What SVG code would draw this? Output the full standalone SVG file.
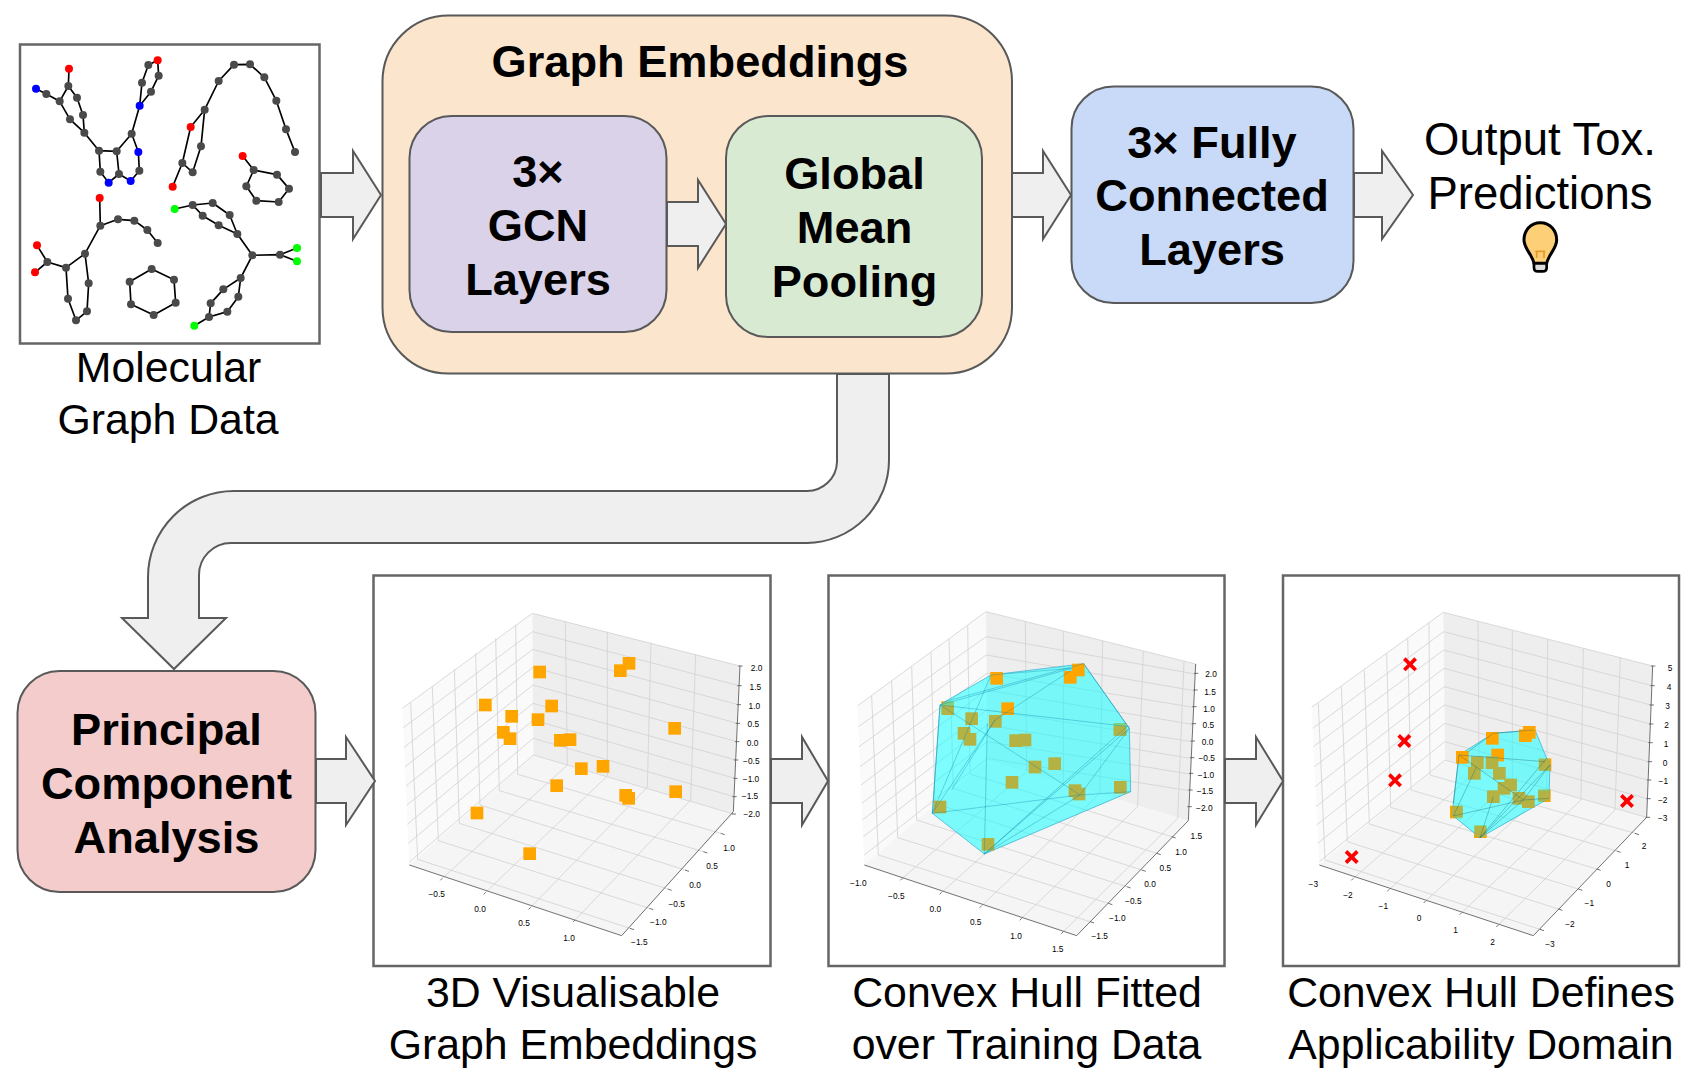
<svg xmlns="http://www.w3.org/2000/svg" width="1698" height="1080" viewBox="0 0 1698 1080">
<style>
text{font-family:"Liberation Sans",Arial,sans-serif;fill:#000;text-anchor:middle}
.t{font-size:42.800px}
.o2{font-size:45.500px}
.b{font-size:45.200px;font-weight:bold}
.box{stroke:#595959;stroke-width:2}
.frame{fill:#fff;stroke:#666;stroke-width:2.5}
.arrow{fill:#efefef;stroke:#595959;stroke-width:2}
.ed{fill:none;stroke:#000;stroke-width:5;stroke-linejoin:round}
.g{fill:#4a4a4a}.r{fill:#f00}.n{fill:#00f}.l{fill:#0f0}
.pl{fill:#fafafa}.pr{fill:#eee}.pf{fill:#f5f5f5}
.grid{fill:none;stroke:#d2d2d2;stroke-width:2.5}
.ax{fill:none;stroke:#555;stroke-width:2.5}
.tk{font-family:"DejaVu Sans",sans-serif;font-size:25px;fill:#333}
.hull{fill:#00ffff;fill-opacity:.5;stroke:#2aa8cc;stroke-width:2}
.hl{fill:none;stroke:#0b87b0;stroke-opacity:.55;stroke-width:2}
.o{fill:#ffa500}.y{fill:#b4b242}
.x{fill:none;stroke:#f00;stroke-width:11}
</style>
<defs>
<rect id="sq" x="-19" y="-19" width="38" height="38"/>
<path id="xm" d="M-17-17L17 17M-17 17L17-17"/>
</defs>

<g id="molecular-graph-data">
<rect class="frame" x="20" y="44.500" width="299.500" height="299"/>
<g transform="translate(0,30) scale(.33333)">
<path class="ed" d="M108 176L139 192L179 214L205 168L207 116M205 168L231 203L249 255L253 308L210 268L179 214M253 308L297 362L350 364L395 311L419 227M395 311L415 366L418 422L392 453L357 432L350 364M297 362L301 425L326 458L357 432M419 227L426 158L445 105L473 91L476 137L453 185L419 227"/>
<path class="ed" d="M518 470L547 399L572 291L614 239L603 349L578 427L547 399M614 239L656 153L702 104L750 103L793 142L829 212L858 298L885 366"/>
<path class="ed" d="M728 378L761 420L831 434L867 476L836 516L769 512L739 469L761 420"/>
<path class="ed" d="M299 504L301 587L354 568L403 572L442 600L473 639M301 587L255 671L198 713L142 696L111 646M142 696L105 727M198 713L204 806L228 871L261 844L266 760L255 671"/>
<path class="ed" d="M455 717L522 749L527 818L461 855L393 823L389 755Z"/>
<path class="ed" d="M524 537L578 525L638 519L689 555L712 612L656 586L608 557L578 525M712 612L757 676L840 674L891 654M840 674L891 694M757 676L722 744L670 778L632 820L627 861L583 887M627 861L682 845L715 800L722 744"/>
<g class="g">
<circle cx="139" cy="192" r="12"/><circle cx="179" cy="214" r="12"/><circle cx="205" cy="168" r="12"/><circle cx="231" cy="203" r="12"/><circle cx="249" cy="255" r="12"/><circle cx="253" cy="308" r="12"/><circle cx="210" cy="268" r="12"/><circle cx="297" cy="362" r="12"/><circle cx="350" cy="364" r="12"/><circle cx="395" cy="311" r="12"/><circle cx="418" cy="422" r="12"/><circle cx="357" cy="432" r="12"/><circle cx="301" cy="425" r="12"/><circle cx="426" cy="158" r="12"/><circle cx="445" cy="105" r="12"/><circle cx="476" cy="137" r="12"/><circle cx="453" cy="185" r="12"/>
<circle cx="547" cy="399" r="12"/><circle cx="614" cy="239" r="12"/><circle cx="603" cy="349" r="12"/><circle cx="578" cy="427" r="12"/><circle cx="656" cy="153" r="12"/><circle cx="702" cy="104" r="12"/><circle cx="750" cy="103" r="12"/><circle cx="793" cy="142" r="12"/><circle cx="829" cy="212" r="12"/><circle cx="858" cy="298" r="12"/><circle cx="885" cy="366" r="12"/>
<circle cx="761" cy="420" r="12"/><circle cx="831" cy="434" r="12"/><circle cx="867" cy="476" r="12"/><circle cx="836" cy="516" r="12"/><circle cx="769" cy="512" r="12"/><circle cx="739" cy="469" r="12"/>
<circle cx="301" cy="587" r="12"/><circle cx="354" cy="568" r="12"/><circle cx="403" cy="572" r="12"/><circle cx="442" cy="600" r="12"/><circle cx="473" cy="639" r="12"/><circle cx="255" cy="671" r="12"/><circle cx="198" cy="713" r="12"/><circle cx="142" cy="696" r="12"/><circle cx="204" cy="806" r="12"/><circle cx="228" cy="871" r="12"/><circle cx="261" cy="844" r="12"/><circle cx="266" cy="760" r="12"/>
<circle cx="455" cy="717" r="12"/><circle cx="522" cy="749" r="12"/><circle cx="527" cy="818" r="12"/><circle cx="461" cy="855" r="12"/><circle cx="393" cy="823" r="12"/><circle cx="389" cy="755" r="12"/>
<circle cx="578" cy="525" r="12"/><circle cx="638" cy="519" r="12"/><circle cx="689" cy="555" r="12"/><circle cx="712" cy="612" r="12"/><circle cx="656" cy="586" r="12"/><circle cx="608" cy="557" r="12"/><circle cx="757" cy="676" r="12"/><circle cx="840" cy="674" r="12"/><circle cx="722" cy="744" r="12"/><circle cx="670" cy="778" r="12"/><circle cx="632" cy="820" r="12"/><circle cx="627" cy="861" r="12"/><circle cx="682" cy="845" r="12"/><circle cx="715" cy="800" r="12"/>
</g>
<g class="r"><circle cx="207" cy="116" r="12"/><circle cx="473" cy="91" r="12"/><circle cx="572" cy="291" r="12"/><circle cx="518" cy="470" r="12"/><circle cx="728" cy="378" r="12"/><circle cx="299" cy="504" r="12"/><circle cx="111" cy="646" r="12"/><circle cx="105" cy="727" r="12"/></g>
<g class="n"><circle cx="108" cy="176" r="12"/><circle cx="419" cy="227" r="12"/><circle cx="415" cy="366" r="12"/><circle cx="392" cy="453" r="12"/><circle cx="326" cy="458" r="12"/></g>
<g class="l"><circle cx="524" cy="537" r="12"/><circle cx="891" cy="654" r="12"/><circle cx="891" cy="694" r="12"/><circle cx="583" cy="887" r="12"/></g>
</g>
<text class="t" x="168.500" y="382">Molecular</text>
<text class="t" x="168" y="434">Graph Data</text>
</g>

<g id="graph-embeddings">
<rect class="box" x="382.500" y="15.500" width="629.500" height="358" rx="66" fill="#fce5cd"/>
<text class="b" x="700" y="77">Graph Embeddings</text>
</g>
<g id="gcn-layers">
<rect class="box" x="409.500" y="116" width="257" height="216" rx="42" fill="#d9d2e9"/>
<text class="b" x="538" y="187">3×</text>
<text class="b" x="538" y="241">GCN</text>
<text class="b" x="538" y="295">Layers</text>
</g>
<g id="global-mean-pooling">
<rect class="box" x="726" y="116" width="256" height="221" rx="42" fill="#d9ead3"/>
<text class="b" x="854.500" y="189">Global</text>
<text class="b" x="854.500" y="243">Mean</text>
<text class="b" x="854.500" y="297">Pooling</text>
</g>
<g id="fully-connected-layers">
<rect class="box" x="1071.500" y="86.500" width="282" height="216.500" rx="42" fill="#c9daf8"/>
<text class="b" x="1212" y="158">3× Fully</text>
<text class="b" x="1212" y="211">Connected</text>
<text class="b" x="1212" y="265">Layers</text>
</g>
<g id="output-predictions">
<text class="o2" x="1540" y="155">Output Tox.</text>
<text class="o2" x="1540" y="209">Predictions</text>
<g transform="translate(1400,100) scale(.33333)">
<path d="M421 368C390 368 372 393 372 420C372 446 396 462 402 490H440C446 462 470 446 470 420C470 393 452 368 421 368Z" fill="#fdd077" stroke="#000" stroke-width="9"/>
<path d="M410 474V452M432 474V452M406 454H436" fill="none" stroke="#e39a2d" stroke-width="5"/>
<path d="M402 490H440V503Q440 514 428 514H414Q402 514 402 503Z" fill="#ddd" stroke="#000" stroke-width="8"/>
</g>
</g>
<g id="principal-component-analysis">
<rect class="box" x="17.500" y="671" width="298" height="221" rx="42" fill="#f4cccc"/>
<text class="b" x="166.500" y="745">Principal</text>
<text class="b" x="166.500" y="799">Component</text>
<text class="b" x="166.500" y="853">Analysis</text>
</g>

<g id="embeddings-plot">
<rect class="frame" x="373.500" y="575.500" width="397" height="390.500"/>
<g transform="translate(370,570) scale(.33333)">
<polygon class="pl" points="97,415 487,130 490,555 118,885"/>
<polygon class="pr" points="487,130 1110,288 1090,732 490,555"/>
<polygon class="pf" points="118,885 490,555 1090,732 755,1097"/>
<path class="grid" d="M97 415L487 130L1110 288M100 473L488 185L1107 347M102 532L488 238L1105 404M105 590L489 292L1102 460M108 648L489 345L1100 515M110 706L489 400L1097 570M112 763L490 450L1095 625M115 820L490 505L1092 680M118 876L490 555L1090 732
M122 397L143 868L780 1075M187 350L205 812L838 1015M253 297L268 760L893 957M317 250L330 705L945 900M377 205L388 662L1000 845M437 165L443 613L1052 790
M586 153L592 585L217 925M712 185L712 618L347 967M843 218L832 652L482 1012M977 252L962 690L615 1050"/>
<path class="ax" d="M118 885L755 1097L1090 725L1110 288M217 925L211 931M347 967L341 973M482 1012L476 1018M615 1050L609 1056M780 1075L792 1079M838 1015L850 1019M893 957L905 961M945 900L957 904M1000 845L1012 849M1052 790L1064 794M1105 288H1118M1102 347H1115M1100 404H1113M1097 460H1110M1095 515H1108M1092 570H1105M1090 625H1103M1087 680H1100M1085 732H1098"/>
<g class="o">
<use href="#sq" x="509" y="306"/><use href="#sq" x="777" y="280"/><use href="#sq" x="751" y="302"/><use href="#sq" x="346" y="405"/><use href="#sq" x="545" y="408"/><use href="#sq" x="425" y="439"/><use href="#sq" x="504" y="449"/><use href="#sq" x="400" y="487"/><use href="#sq" x="420" y="506"/><use href="#sq" x="571" y="511"/><use href="#sq" x="600" y="509"/><use href="#sq" x="914" y="475"/><use href="#sq" x="634" y="596"/><use href="#sq" x="699" y="589"/><use href="#sq" x="560" y="647"/><use href="#sq" x="767" y="676"/><use href="#sq" x="776" y="685"/><use href="#sq" x="917" y="665"/><use href="#sq" x="321" y="729"/><use href="#sq" x="479" y="851"/>
</g>
<g class="tk">
<text x="1160" y="304">2.0</text><text x="1156" y="360">1.5</text><text x="1153" y="416">1.0</text><text x="1150" y="472">0.5</text><text x="1148" y="527">0.0</text><text x="1144" y="581">−0.5</text><text x="1143" y="635">−1.0</text><text x="1140" y="688">−1.5</text><text x="1145" y="742">−2.0</text>
<text x="200" y="981">−0.5</text><text x="330" y="1025">0.0</text><text x="462" y="1068">0.5</text><text x="597" y="1113">1.0</text>
<text x="1077" y="844">1.0</text><text x="1026" y="898">0.5</text><text x="975" y="953">0.0</text><text x="920" y="1010">−0.5</text><text x="865" y="1066">−1.0</text><text x="808" y="1126">−1.5</text>
</g>
</g>
<text class="t" x="573" y="1007">3D Visualisable</text>
<text class="t" x="573" y="1059">Graph Embeddings</text>
</g>

<g id="convex-hull-plot">
<rect class="frame" x="828.500" y="575.500" width="396" height="390.500"/>
<g transform="translate(825,570) scale(.33333)">
<polygon class="pl" points="97,408 483,125 487,570 118,885"/>
<polygon class="pr" points="483,125 1112,282 1090,752 487,570"/>
<polygon class="pf" points="118,885 487,570 1090,752 755,1097"/>
<path class="grid" d="M97 408L483 125L1112 282M100 470L484 200L1110 312M102 530L484 255L1107 362M105 590L485 310L1105 412M108 645L485 360L1102 463M110 700L486 420L1100 515M112 750L486 465L1097 565M115 800L487 515L1095 612M118 855L487 565L1092 662
M140 378L160 855L795 1055M200 333L218 803L850 1000M260 290L275 750L905 950M318 248L330 700L950 900M372 207L385 655L995 850M428 168L435 612L1040 800
M601 155L605 605L232 925M715 183L715 640L350 967M833 213L825 670L470 1007M955 243L938 710L590 1045M1077 275L1058 745L715 1085"/>
<path class="ax" d="M118 885L755 1097L1090 752L1112 282M232 925L226 931M350 967L344 973M470 1007L464 1013M590 1045L584 1051M715 1085L709 1091M795 1055L807 1059M850 1000L862 1004M905 950L917 954M950 900L962 904M995 850L1007 854M1040 800L1052 804M1107 310H1120M1105 360H1118M1102 410H1115M1100 461H1113M1097 513H1110M1095 563H1108M1092 610H1105M1090 660H1103M1087 710H1100"/>
<g class="o"><use href="#sq" x="368" y="413"/><use href="#sq" x="885" y="478"/></g>
<polygon class="hull" points="345,405 360,395 498,315 776,281 913,475 917,665 478,852 322,730"/>
<g class="o"><use href="#sq" x="515" y="325"/><use href="#sq" x="760" y="300"/><use href="#sq" x="736" y="322"/><use href="#sq" x="548" y="416"/></g>
<g class="y">
<rect x="350" y="407" width="37" height="28"/><rect x="866" y="468" width="38" height="29"/>
<use href="#sq" x="440" y="446"/><use href="#sq" x="511" y="454"/><use href="#sq" x="417" y="490"/><use href="#sq" x="435" y="508"/><use href="#sq" x="572" y="512"/><use href="#sq" x="600" y="510"/><use href="#sq" x="630" y="591"/><use href="#sq" x="689" y="581"/><use href="#sq" x="561" y="637"/><use href="#sq" x="750" y="662"/><use href="#sq" x="762" y="672"/><use href="#sq" x="886" y="652"/><use href="#sq" x="345" y="711"/><use href="#sq" x="489" y="823"/>
</g>
<path class="hl" d="M345 405L740 295M360 395L776 281M498 315L740 295M345 405L913 470M345 405L765 675M322 730L765 675L917 665M478 852L913 475M478 852L905 470M478 852L765 675M765 675L913 475M322 730L498 315M322 730L510 450L740 300M345 405L322 730M487 460L478 852M380 660L510 450M776 281L913 475"/>
<g class="tk">
<text x="1158" y="322">2.0</text><text x="1155" y="375">1.5</text><text x="1152" y="425">1.0</text><text x="1150" y="475">0.5</text><text x="1148" y="525">0.0</text><text x="1145" y="574">−0.5</text><text x="1143" y="624">−1.0</text><text x="1140" y="673">−1.5</text><text x="1138" y="722">−2.0</text>
<text x="100" y="949">−1.0</text><text x="214" y="986">−0.5</text><text x="331" y="1026">0.0</text><text x="452" y="1065">0.5</text><text x="573" y="1106">1.0</text><text x="698" y="1147">1.5</text>
<text x="1114" y="806">1.5</text><text x="1068" y="854">1.0</text><text x="1021" y="902">0.5</text><text x="975" y="951">0.0</text><text x="925" y="1002">−0.5</text><text x="877" y="1054">−1.0</text><text x="824" y="1108">−1.5</text>
</g>
</g>
<text class="t" x="1027" y="1007">Convex Hull Fitted</text>
<text class="t" x="1026.500" y="1059">over Training Data</text>
</g>

<g id="applicability-domain-plot">
<rect class="frame" x="1283" y="575.500" width="396" height="390.500"/>
<g transform="translate(1280,570) scale(.33333)">
<polygon class="pl" points="95,412 490,127 495,570 118,885"/>
<polygon class="pr" points="490,127 1118,288 1100,742 495,570"/>
<polygon class="pf" points="118,885 495,570 1100,742 760,1097"/>
<path class="grid" d="M95 412L490 127L1118 288M98 475L491 185L1116 347M100 530L491 240L1113 405M103 590L492 295L1110 462M105 650L493 350L1108 518M108 710L493 405L1105 575M110 765L494 460L1103 630M113 820L494 515L1101 686M118 875L495 570L1100 742
M115 400L135 870L780 1078M184 350L202 815L835 1017M253 300L268 762L895 957M320 250L332 712L950 897M383 205L393 660L1010 843M447 158L450 615L1065 790
M594 155L597 598L220 925M697 183L697 630L328 958M803 210L800 660L437 993M910 235L903 690L545 1028M1021 262L1005 720L655 1065"/>
<path class="ax" d="M118 885L760 1097L1100 742L1118 288M220 925L214 931M328 958L322 964M437 993L431 999M545 1028L539 1034M655 1065L649 1071M780 1078L792 1082M835 1017L847 1021M895 957L907 961M950 897L962 901M1010 843L1022 847M1065 790L1077 794M1113 288H1126M1111 347H1124M1109 405H1122M1107 462H1120M1105 518H1118M1103 575H1116M1101 630H1114M1099 686H1112M1097 742H1110"/>
<g class="o"><use href="#sq" x="795" y="584"/><use href="#sq" x="793" y="677"/><use href="#sq" x="529" y="726"/><use href="#sq" x="601" y="785"/></g>
<polygon class="hull" points="537,555 640,490 765,480 800,565 810,585 807,685 600,803 520,738 520,700"/>
<g class="o"><use href="#sq" x="547" y="562"/><use href="#sq" x="637" y="505"/><use href="#sq" x="748" y="487"/><use href="#sq" x="736" y="497"/><use href="#sq" x="653" y="555"/></g>
<g class="y">
<use href="#sq" x="592" y="578"/><use href="#sq" x="583" y="610"/><use href="#sq" x="636" y="578"/><use href="#sq" x="658" y="610"/><use href="#sq" x="692" y="645"/><use href="#sq" x="672" y="655"/><use href="#sq" x="640" y="680"/><use href="#sq" x="717" y="685"/><use href="#sq" x="745" y="695"/>
<rect x="777" y="568" width="33" height="33"/><rect x="775" y="662" width="33" height="30"/><rect x="515" y="708" width="33" height="33"/><rect x="585" y="768" width="33" height="33"/>
</g>
<path class="hl" style="stroke:#106a80" d="M537 555L795 575M537 555L730 690M565 545L640 490L760 480M520 738L730 690L807 685M600 803L810 585M600 803L730 690M730 690L810 585M520 738L590 590M520 700L537 555M640 680L600 803M600 803L800 565"/>
<g class="x">
<use href="#xm" x="390" y="283"/><use href="#xm" x="373" y="513"/><use href="#xm" x="345" y="631"/><use href="#xm" x="215" y="861"/><use href="#xm" x="1041" y="693"/>
</g>
<g class="tk">
<text x="1170" y="302">5</text><text x="1167" y="360">4</text><text x="1163" y="418">3</text><text x="1160" y="475">2</text><text x="1158" y="532">1</text><text x="1155" y="589">0</text><text x="1150" y="643">−1</text><text x="1148" y="699">−2</text><text x="1148" y="752">−3</text>
<text x="100" y="950">−3</text><text x="204" y="983">−2</text><text x="310" y="1018">−1</text><text x="417" y="1052">0</text><text x="527" y="1088">1</text><text x="638" y="1126">2</text>
<text x="1092" y="837">2</text><text x="1041" y="893">1</text><text x="986" y="950">0</text><text x="928" y="1009">−1</text><text x="870" y="1070">−2</text><text x="810" y="1132">−3</text>
</g>
</g>
<text class="t" x="1481" y="1007">Convex Hull Defines</text>
<text class="t" x="1481" y="1059">Applicability Domain</text>
</g>

<g id="connectors">
<polygon class="arrow" points="321,173 353,173 353,151 381,195 353,239 353,217 321,217"/>
<polygon class="arrow" points="667,202 698,202 698,180 726,224 698,268 698,246 667,246"/>
<polygon class="arrow" points="1012,173 1043,173 1043,151 1071,195 1043,239 1043,217 1012,217"/>
<polygon class="arrow" points="1354,173 1382,173 1382,151 1413,195 1382,239 1382,217 1354,217"/>
<polygon class="arrow" points="316,759 346,759 346,737 375,781 346,825 346,803 316,803"/>
<polygon class="arrow" points="771,759 802,759 802,737 828,781 802,825 802,803 771,803"/>
<polygon class="arrow" points="1225,759 1256,759 1256,737 1283,781 1256,825 1256,803 1225,803"/>
<path class="arrow" d="M837 374V462A30 30 0 0 1 807 491H234A86 86 0 0 0 148 577V618H122L174 669L226 618H199V575A32 32 0 0 1 231 543H807A83 83 0 0 0 889 460V374Z"/>
</g>
</svg>
